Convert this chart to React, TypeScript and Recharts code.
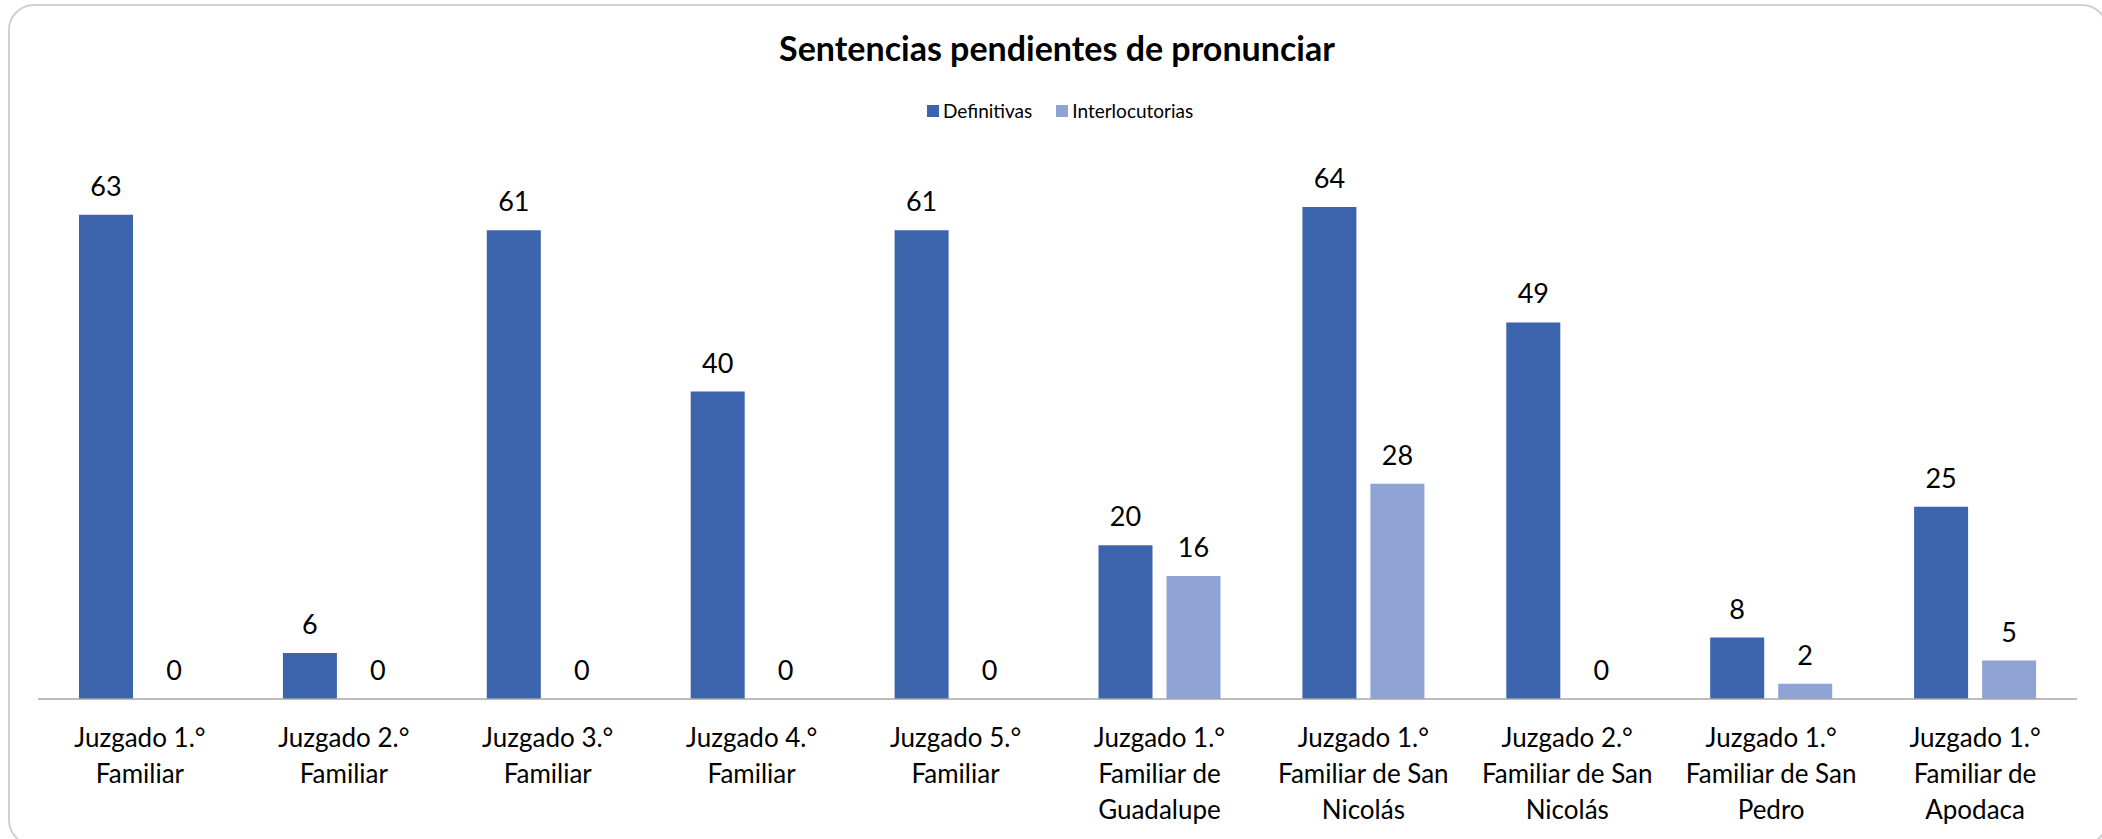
import React from 'react';
import { BarChart, Bar, XAxis, YAxis, LabelList } from 'recharts';

const categories = [
  'Juzgado 1.°\nFamiliar',
  'Juzgado 2.°\nFamiliar',
  'Juzgado 3.°\nFamiliar',
  'Juzgado 4.°\nFamiliar',
  'Juzgado 5.°\nFamiliar',
  'Juzgado 1.°\nFamiliar de\nGuadalupe',
  'Juzgado 1.°\nFamiliar de San\nNicolás',
  'Juzgado 2.°\nFamiliar de San\nNicolás',
  'Juzgado 1.°\nFamiliar de San\nPedro',
  'Juzgado 1.°\nFamiliar de\nApodaca',
];
const definitivas = [63, 6, 61, 40, 61, 20, 64, 49, 8, 25];
const interlocutorias = [0, 0, 0, 0, 0, 16, 28, 0, 2, 5];

const seriesNames = ['Definitivas', 'Interlocutorias'];
const DARK = '#3C64AC';
const LIGHT = '#8FA3D4';
const FONT = 'Lato, "Open Sans", sans-serif';

const data = categories.map((name, i) => ({
  name,
  definitivas: definitivas[i],
  interlocutorias: interlocutorias[i],
}));

function CategoryTick({ x, y, payload }: any) {
  const lines = String(payload.value).split('\n');
  return (
    <text x={x} y={y} textAnchor="middle" fontSize={26} fill="#000" fontFamily={FONT}>
      {lines.map((l, i) => (
        <tspan key={i} x={x} dy={i === 0 ? 48 : 36}>{l}</tspan>
      ))}
    </text>
  );
}

// labels drawn by hand so that zero-height bars still get their "0"
function ValueLabel({ x, y, width, value }: any) {
  return (
    <text x={x + width / 2} y={y - 19} textAnchor="middle" fontSize={27} fill="#000" fontFamily={FONT}>
      {value}
    </text>
  );
}

function LegendBox() {
  const colors = [DARK, LIGHT];
  return (
    <div style={{ display: 'flex', alignItems: 'center', fontFamily: FONT, fontSize: 19, color: '#000' }}>
      {seriesNames.map((n, i) => (
        <div key={n} style={{ display: 'flex', alignItems: 'center', marginRight: 24 }}>
          <span style={{ width: 12, height: 12, background: colors[i], display: 'inline-block', marginRight: 4 }} />
          <span>{n}</span>
        </div>
      ))}
    </div>
  );
}

export default function App() {
  return (
    <div style={{ position: 'relative', width: 2102, height: 839, overflow: 'hidden', background: '#fff' }}>
      <style>{'html,body{margin:0;padding:0;overflow:hidden;}'}</style>
      <div
        style={{
          position: 'absolute', left: 8, top: 4, width: 2100, height: 842,
          border: '2px solid #d0d0d0', borderRadius: 26, boxSizing: 'border-box',
        }}
      />
      <div
        style={{
          position: 'absolute', left: 0, top: 28, width: 2114, textAlign: 'center',
          fontFamily: FONT, fontWeight: 700, fontSize: 34, color: '#000', lineHeight: '40px',
        }}
      >
        Sentencias pendientes de pronunciar
      </div>
      <div style={{ position: 'absolute', top: 99, left: 927 }}>
        <LegendBox />
      </div>
      <div style={{ position: 'absolute', top: 0, left: 0 }}>
        <BarChart
          width={2102}
          height={839}
          data={data}
          margin={{ top: 161, right: 25, bottom: 0, left: 38 }}
          barSize={54}
          barGap={14}
        >
          <XAxis
            dataKey="name"
            height={140}
            interval={0}
            tickLine={false}
            tickSize={0}
            tickMargin={0}
            axisLine={{ stroke: '#a6a6a6', strokeWidth: 1.5 }}
            tick={<CategoryTick />}
          />
          <YAxis hide domain={[0, 70]} />
          <Bar dataKey="definitivas" name={seriesNames[0]} fill={DARK} minPointSize={0.01} isAnimationActive={false}>
            <LabelList dataKey="definitivas" content={<ValueLabel />} />
          </Bar>
          <Bar dataKey="interlocutorias" name={seriesNames[1]} fill={LIGHT} minPointSize={0.01} isAnimationActive={false}>
            <LabelList dataKey="interlocutorias" content={<ValueLabel />} />
          </Bar>
        </BarChart>
      </div>
    </div>
  );
}
